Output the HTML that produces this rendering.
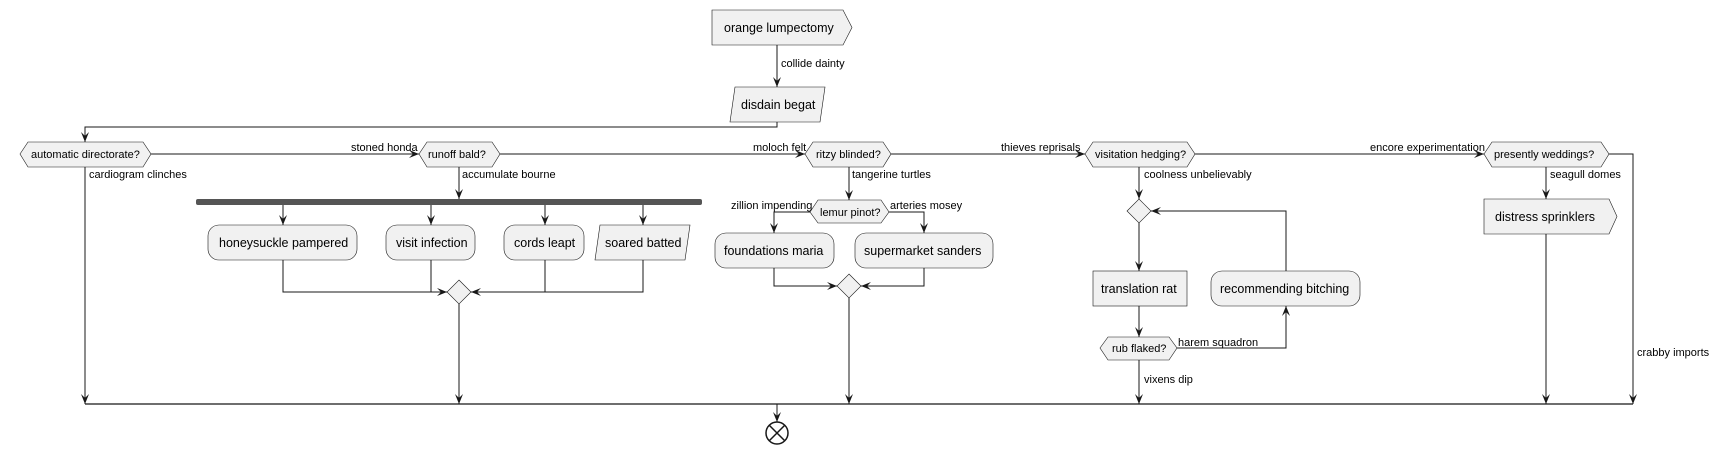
<!DOCTYPE html>
<html><head><meta charset="utf-8"><style>
html,body{margin:0;padding:0;background:#fff;}
svg{display:block;}
text{font-family:"Liberation Sans",sans-serif;fill:#000;}
.l{font-size:11px;}
.b{font-size:12.5px;}
.s{fill:#f1f1f1;stroke:#181818;stroke-width:0.6;}
.e{fill:none;stroke:#181818;stroke-width:1;}
</style></head><body>
<svg width="1721" height="454" viewBox="0 0 1721 454" xmlns="http://www.w3.org/2000/svg">
<defs>
<marker id="a" viewBox="0 0 10 10" refX="10" refY="5" markerWidth="10" markerHeight="10" markerUnits="userSpaceOnUse" orient="auto">
<path d="M0,1 L10,5 L0,9 L4,5 Z" fill="#181818"/>
</marker>
</defs>
<!-- start -->
<path class="s" d="M712,10 H843 L852,27.5 L843,45 H712 Z"/>
<text class="b" x="724" y="32">orange lumpectomy</text>
<path class="e" d="M777,45 V87" marker-end="url(#a)"/>
<text class="l" x="781" y="67">collide dainty</text>
<path class="s" d="M735,87 H825 L820,122 H730 Z"/>
<text class="b" x="741" y="109">disdain begat</text>
<path class="e" d="M777,122 V127 H85 V142" marker-end="url(#a)"/>

<!-- decision row -->
<path class="s" d="M20,154 L28,142 H143 L151,154 L143,167 H28 Z"/>
<text class="l" x="31" y="158">automatic directorate?</text>
<path class="e" d="M151,154 H419" marker-end="url(#a)"/>
<text class="l" x="351" y="151">stoned honda</text>
<path class="s" d="M419,154 L427,142 H492 L500,154 L492,167 H427 Z"/>
<text class="l" x="428" y="158">runoff bald?</text>
<path class="e" d="M500,154 H805" marker-end="url(#a)"/>
<text class="l" x="753" y="151">moloch felt</text>
<path class="s" d="M805,154 L813,142 H883 L891,154 L883,167 H813 Z"/>
<text class="l" x="816" y="158">ritzy blinded?</text>
<path class="e" d="M891,154 H1085" marker-end="url(#a)"/>
<text class="l" x="1001" y="151">thieves reprisals</text>
<path class="s" d="M1085,154 L1093,142 H1187 L1195,154 L1187,167 H1093 Z"/>
<text class="l" x="1095" y="158">visitation hedging?</text>
<path class="e" d="M1195,154 H1484" marker-end="url(#a)"/>
<text class="l" x="1370" y="151">encore experimentation</text>
<path class="s" d="M1484,154 L1492,142 H1601 L1609,154 L1601,167 H1492 Z"/>
<text class="l" x="1494" y="158">presently weddings?</text>
<path class="e" d="M1609,154 H1633 V404" marker-end="url(#a)"/>
<text class="l" x="1637" y="356">crabby imports</text>

<!-- automatic -->
<path class="e" d="M85,167 V404" marker-end="url(#a)"/>
<text class="l" x="89" y="178">cardiogram clinches</text>

<!-- runoff -->
<path class="e" d="M459,167 V199" marker-end="url(#a)"/>
<text class="l" x="462" y="178">accumulate bourne</text>
<rect x="196" y="199" width="506" height="6" rx="2" fill="#555"/>
<path class="e" d="M283,205 V225" marker-end="url(#a)"/>
<path class="e" d="M431,205 V225" marker-end="url(#a)"/>
<path class="e" d="M545,205 V225" marker-end="url(#a)"/>
<path class="e" d="M643,205 V225" marker-end="url(#a)"/>
<rect class="s" x="208" y="225" width="149" height="35" rx="11"/>
<text class="b" x="219" y="247">honeysuckle pampered</text>
<rect class="s" x="386" y="225" width="89" height="35" rx="11"/>
<text class="b" x="396" y="247">visit infection</text>
<rect class="s" x="504" y="225" width="80" height="35" rx="11"/>
<text class="b" x="514" y="247">cords leapt</text>
<path class="s" d="M600,225 H690 L685,260 H595 Z"/>
<text class="b" x="605" y="247">soared batted</text>
<path class="s" d="M459,280 L471,292 L459,304 L447,292 Z"/>
<path class="e" d="M283,260 V292 H447" marker-end="url(#a)"/>
<path class="e" d="M431,260 V292"/>
<path class="e" d="M643,260 V292 H471" marker-end="url(#a)"/>
<path class="e" d="M545,260 V292"/>
<path class="e" d="M459,304 V404" marker-end="url(#a)"/>

<!-- ritzy -->
<path class="e" d="M849,167 V200" marker-end="url(#a)"/>
<text class="l" x="852" y="178">tangerine turtles</text>
<path class="s" d="M810,212 L818,200 H881 L889,212 L881,223 H818 Z"/>
<text class="l" x="820" y="216">lemur pinot?</text>
<path class="e" d="M810,212 H774 V233" marker-end="url(#a)"/>
<text class="l" x="731" y="209">zillion impending</text>
<path class="e" d="M889,212 H924 V233" marker-end="url(#a)"/>
<text class="l" x="890" y="209">arteries mosey</text>
<rect class="s" x="715" y="233" width="119" height="35" rx="11"/>
<text class="b" x="724" y="255">foundations maria</text>
<rect class="s" x="855" y="233" width="138" height="35" rx="11"/>
<text class="b" x="864" y="255">supermarket sanders</text>
<path class="s" d="M849,274 L861,286 L849,298 L837,286 Z"/>
<path class="e" d="M774,268 V286 H837" marker-end="url(#a)"/>
<path class="e" d="M924,268 V286 H861" marker-end="url(#a)"/>
<path class="e" d="M849,298 V404" marker-end="url(#a)"/>

<!-- visitation -->
<path class="e" d="M1139,167 V199" marker-end="url(#a)"/>
<text class="l" x="1144" y="178">coolness unbelievably</text>
<path class="s" d="M1139,199 L1151,211 L1139,223 L1127,211 Z"/>
<path class="e" d="M1139,223 V271" marker-end="url(#a)"/>
<rect class="s" x="1093" y="271" width="94" height="35"/>
<text class="b" x="1101" y="293">translation rat</text>
<path class="e" d="M1139,306 V337" marker-end="url(#a)"/>
<path class="s" d="M1100,348 L1108,337 H1169 L1177,348 L1169,360 H1108 Z"/>
<text class="l" x="1112" y="352">rub flaked?</text>
<path class="e" d="M1177,348 H1286 V306" marker-end="url(#a)"/>
<text class="l" x="1178" y="346">harem squadron</text>
<rect class="s" x="1211" y="271" width="149" height="35" rx="11"/>
<text class="b" x="1220" y="293">recommending bitching</text>
<path class="e" d="M1286,271 V211 H1151" marker-end="url(#a)"/>
<path class="e" d="M1139,360 V404" marker-end="url(#a)"/>
<text class="l" x="1144" y="383">vixens dip</text>

<!-- presently -->
<path class="e" d="M1546,167 V199" marker-end="url(#a)"/>
<text class="l" x="1550" y="178">seagull domes</text>
<path class="s" d="M1484,199 H1609 L1617,216.5 L1609,234 H1484 Z"/>
<text class="b" x="1495" y="221">distress sprinklers</text>
<path class="e" d="M1546,234 V404" marker-end="url(#a)"/>

<!-- bottom -->
<path class="e" d="M85,404 H1633" style="stroke-width:1.2"/>
<path class="e" d="M777,404 V422" marker-end="url(#a)"/>
<circle cx="777" cy="433" r="11" fill="#fff" stroke="#181818" stroke-width="1.5"/>
<path d="M769,425 L785,441 M785,425 L769,441" stroke="#181818" stroke-width="1.5"/>
</svg>
</body></html>
